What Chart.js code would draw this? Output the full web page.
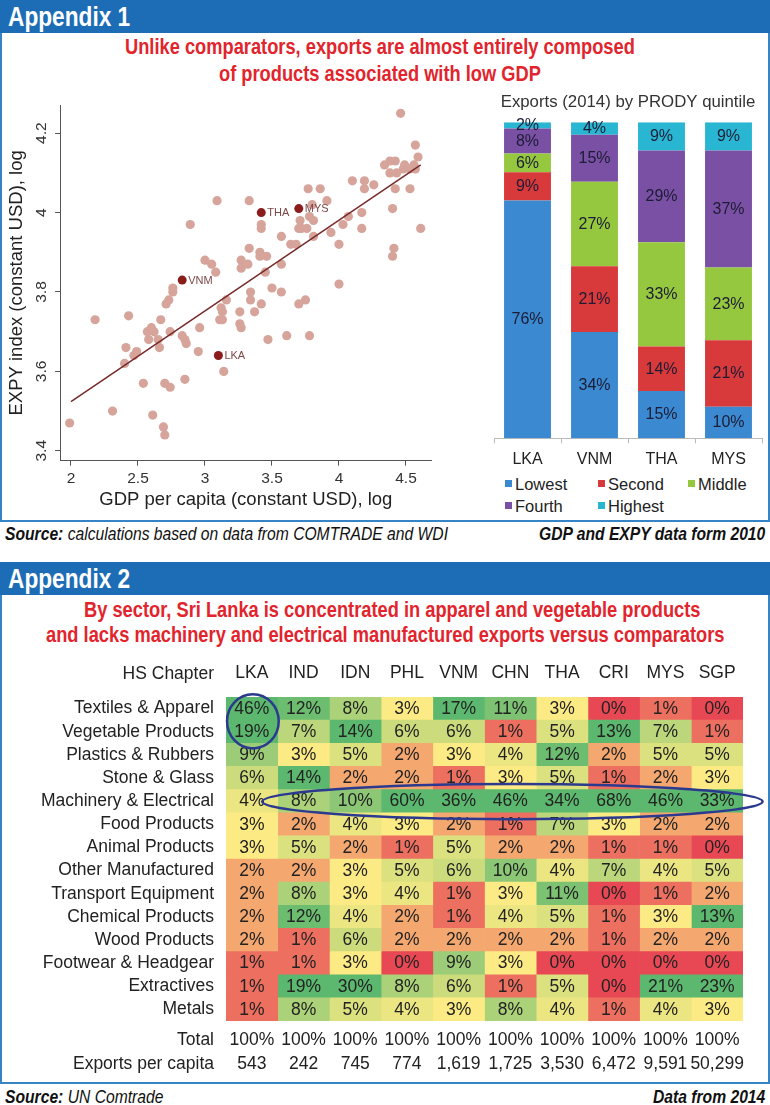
<!DOCTYPE html>
<html><head><meta charset="utf-8">
<script src="https://cdn.jsdelivr.net/npm/chart.js@4.4.1/dist/chart.umd.min.js"></script>
<style>
html,body{margin:0;padding:0;background:#fff;}
body{width:770px;height:1105px;position:relative;overflow:hidden;font-family:"Liberation Sans",Arial,sans-serif;}
.box{position:absolute;left:0;width:770px;box-sizing:border-box;border:2px solid #3584c6;border-top:none;}
.hdr{position:absolute;left:0;width:770px;height:33px;background:#1c6db5;}
.ct{position:absolute;white-space:nowrap;line-height:1;transform-origin:0 50%;}
.hdrtxt{color:#fff;font-weight:bold;font-size:27px;}
.ttl{color:#e2242c;font-weight:bold;font-size:21.5px;}
.src{font-size:18px;font-style:italic;color:#111;}
.lg{position:absolute;font-size:16.5px;color:#222;white-space:nowrap;line-height:1;}
.sq{position:absolute;width:7px;height:7px;}
canvas{position:absolute;}
</style></head>
<body>
<div class="box" style="top:0;height:522px;"></div>
<div class="hdr" style="top:0;"></div>
<div class="box" style="top:562px;height:522px;"></div>
<div class="hdr" style="top:562px;"></div>

<span class="ct hdrtxt" id="h1">Appendix 1</span>
<span class="ct ttl" id="t1a">Unlike comparators, exports are almost entirely composed</span>
<span class="ct ttl" id="t1b">of products associated with low GDP</span>
<span class="ct src" id="s1a"><b>Source:</b> calculations based on data from COMTRADE and WDI</span>
<span class="ct src" id="s1b"><b>GDP and EXPY data form 2010</b></span>

<span class="ct hdrtxt" id="h2">Appendix 2</span>
<span class="ct ttl" id="t2a">By sector, Sri Lanka is concentrated in apparel and vegetable products</span>
<span class="ct ttl" id="t2b">and lacks machinery and electrical manufactured exports versus comparators</span>
<span class="ct src" id="s2a"><b>Source:</b> UN Comtrade</span>
<span class="ct src" id="s2b"><b>Data from 2014</b></span>

<canvas id="sc" width="467" height="428" style="left:3px;top:88px;"></canvas>
<canvas id="bc" width="294" height="380" style="left:474px;top:88px;"></canvas>
<div id="legend"></div>
<canvas id="hm" width="766" height="425" style="left:0px;top:655px;"></canvas>

<script>
// ---------- Appendix 1: scatter data (log GDP per capita vs log EXPY) ----------
const gdp = [3.09,3.33,2.89,3.00,3.05,3.08,3.27,3.27,3.32,3.33,2.76,2.76,2.73,2.71,3.16,3.12,3.13,3.26,2.18,2.43,2.67,
  2.57,2.60,2.62,2.58,2.65,2.66,2.74,2.83,2.85,2.86,2.96,2.95,2.41,2.49,2.47,2.40,2.54,2.70,2.74,2.85,3.14,2.31,2.61,2.69,2.70,1.99,
  3.26,3.27,3.11,3.13,4.46,4.57,4.59,4.34,4.38,4.42,4.49,4.56,4.38,4.43,4.48,4.53,4.57,4.42,4.53,4.26,4.19,4.19,4.10,4.40,4.61,
  4.17,4.17,4.07,4.03,4.00,4.41,4.40,4.00,3.77,3.86,3.91,3.80,3.71,3.78,3.81,3.42,3.42,3.70,3.72,3.76,3.94,3.57,3.81,3.64,3.68,
  3.41,3.41,3.46,3.57,3.45,3.50,3.57,3.34,3.34,3.42,3.37,3.70,3.75,3.47,3.61,3.78];
const expy = [4.03,4.03,3.97,3.88,3.87,3.85,3.88,3.86,3.87,3.91,3.81,3.80,3.78,3.77,3.78,3.76,3.75,3.75,3.73,3.74,3.73,
  3.70,3.71,3.70,3.68,3.68,3.66,3.70,3.69,3.68,3.67,3.71,3.65,3.66,3.65,3.64,3.62,3.57,3.57,3.56,3.58,3.60,3.50,3.49,3.46,3.44,3.47,
  3.72,3.71,3.73,3.73,4.25,4.17,4.14,4.12,4.13,4.13,4.12,4.12,4.10,4.10,4.11,4.11,4.11,4.06,4.06,4.07,4.08,4.06,4.08,4.01,3.96,
  4.00,3.96,3.99,3.97,3.92,3.91,3.89,3.82,4.06,4.06,4.03,4.02,3.98,3.99,3.98,3.97,3.96,3.96,3.96,3.96,3.95,3.94,3.94,3.92,3.92,
  3.90,3.89,3.89,3.87,3.85,3.81,3.80,3.80,3.78,3.77,3.75,3.77,3.78,3.68,3.69,3.69];
const hlNames = ['VNM','THA','MYS','LKA'];
const hlGdp = [2.83,3.42,3.70,3.10];
const hlExpy = [3.83,4.00,4.01,3.64];
const fitGdp = [2.00,4.61];
const fitExpy = [3.524,4.120];
const xTicks = [2,2.5,3,3.5,4,4.5];
const yTicks = [3.4,3.6,3.8,4,4.2];

// ---------- Appendix 1: exports by PRODY quintile (%) ----------
const barCountries = ['LKA','VNM','THA','MYS'];
const quintiles = ['Lowest','Second','Middle','Fourth','Highest'];
const lowest  = [76,34,15,10];
const second  = [9,21,14,21];
const middle  = [6,27,33,23];
const fourth  = [8,15,29,37];
const highest = [2,4,9,9];

// ---------- Appendix 2: share of exports by HS chapter (%) ----------
const sectors = ['Textiles & Apparel','Vegetable Products','Plastics & Rubbers','Stone & Glass','Machinery & Electrical',
  'Food Products','Animal Products','Other Manufactured','Transport Equipment','Chemical Products','Wood Products',
  'Footwear & Headgear','Extractives','Metals'];
const countries = ['LKA','IND','IDN','PHL','VNM','CHN','THA','CRI','MYS','SGP'];
const LKA = [46,19,9,6,4,3,3,2,2,2,2,1,1,1];
const IND = [12,7,3,14,8,2,5,2,8,12,1,1,19,8];
const IDN = [8,14,5,2,10,4,2,3,3,4,6,3,30,5];
const PHL = [3,6,2,2,60,3,1,5,4,2,2,0,8,4];
const VNM = [17,6,3,1,36,2,5,6,1,1,2,9,6,3];
const CHN = [11,1,4,3,46,1,2,10,3,4,2,3,1,8];
const THA = [3,5,12,5,34,7,2,4,11,5,2,0,5,4];
const CRI = [0,13,2,1,68,3,1,7,0,1,1,0,0,1];
const MYS = [1,7,5,2,46,2,1,4,1,3,2,0,21,4];
const SGP = [0,1,5,3,33,2,0,5,2,13,2,0,23,3];
const totals = ['100%','100%','100%','100%','100%','100%','100%','100%','100%','100%'];
const exportsPerCapita = ['543','242','745','774','1,619','1,725','3,530','6,472','9,591','50,299'];

// ---------- text placement ----------
function place(id, o){
  const el=document.getElementById(id);
  const sx=o.sx||1;
  el.style.transform='scaleX('+sx+')';
  const w=el.offsetWidth*sx, h=el.offsetHeight;
  let left=o.left;
  if(o.cx!==undefined) left=o.cx-w/2;
  if(o.right!==undefined) left=o.right-w;
  el.style.left=left+'px';
  el.style.top=(o.cy-h/2)+'px';
}
place('h1',{left:8,cy:17,sx:0.84});
place('t1a',{cx:380,cy:48,sx:0.85});
place('t1b',{cx:380,cy:75,sx:0.85});
place('s1a',{left:5,cy:534,sx:0.87});
place('s1b',{right:765,cy:534,sx:0.87});
place('h2',{left:8,cy:579,sx:0.84});
place('t2a',{cx:392,cy:611,sx:0.85});
place('t2b',{cx:385,cy:636,sx:0.85});
place('s2a',{left:5,cy:1097,sx:0.87});
place('s2b',{right:765,cy:1097,sx:0.87});

const FAM='"Liberation Sans", Arial, sans-serif';
Chart.defaults.font.family=FAM;
Chart.defaults.color='#222';
Chart.defaults.animation=false;

// ---------- scatter ----------
const scLabels={
  id:'scLabels',
  afterDraw(chart){
    const ctx=chart.ctx, ys=chart.scales.y, ca=chart.chartArea;
    ctx.save();
    ctx.font='15.5px '+FAM; ctx.fillStyle='#333'; ctx.textAlign='center'; ctx.textBaseline='middle';
    ys.ticks.forEach(t=>{
      const py=ys.getPixelForValue(t.value);
      ctx.save(); ctx.translate(ca.left-18,py); ctx.rotate(-Math.PI/2); ctx.fillText(String(t.value),0,0); ctx.restore();
    });
    const meta=chart.getDatasetMeta(0);
    ctx.font='11px '+FAM; ctx.fillStyle='#7d4747'; ctx.textAlign='left';
    meta.data.forEach((el,i)=>{ ctx.fillText(hlNames[i], el.x+6, el.y+0.5); });
    ctx.restore();
  }
};
new Chart(document.getElementById('sc'),{
  type:'scatter',
  data:{datasets:[
    {label:'Highlighted',data:hlGdp.map((x,i)=>({x,y:hlExpy[i]})),pointRadius:4.5,backgroundColor:'#8b1c1c',borderWidth:0,order:0},
    {type:'line',label:'Fit',data:fitGdp.map((x,i)=>({x,y:fitExpy[i]})),borderColor:'#772a2a',borderWidth:1.5,pointRadius:0,fill:false,order:1},
    {label:'Countries',data:gdp.map((x,i)=>({x,y:expy[i]})),pointRadius:4.6,backgroundColor:'#d6a49b',borderWidth:0,order:2}
  ]},
  options:{
    responsive:false,devicePixelRatio:1,
    layout:{padding:{left:0,top:17,right:38.3,bottom:0}},
    plugins:{legend:{display:false},tooltip:{enabled:false}},
    scales:{
      x:{type:'linear',min:1.918,max:4.692,
        afterBuildTicks:s=>{s.ticks=xTicks.map(v=>({value:v}));},
        afterFit:s=>{s.height=55.3;},
        grid:{drawOnChartArea:false,drawTicks:true,tickLength:5,color:'#555'},
        border:{display:true,color:'#555',width:1},
        ticks:{font:{size:15.5},color:'#333',padding:4,maxRotation:0,callback:v=>String(v)},
        title:{display:true,text:'GDP per capita (constant USD), log',font:{size:18.5},color:'#222',padding:{top:0,bottom:5}}},
      y:{type:'linear',min:3.375,max:4.271,
        afterBuildTicks:s=>{s.ticks=yTicks.map(v=>({value:v}));},
        afterFit:s=>{s.width=57;},
        grid:{drawOnChartArea:false,drawTicks:true,tickLength:5,color:'#555'},
        border:{display:true,color:'#555',width:1},
        ticks:{display:false},
        title:{display:true,text:'EXPY index (constant USD), log',font:{size:18.5},color:'#222',padding:{top:3,bottom:0}}}
    }
  },
  plugins:[scLabels]
});

// ---------- stacked bars ----------
const qSeries=[lowest,second,middle,fourth,highest];
const qColors=['#3b89d1','#d8393b','#95c83e','#7a50a4','#29b6d3'];
const barTot=barCountries.map((c,j)=>qSeries.reduce((s,a)=>s+a[j],0));
const barLabels={
  id:'barLabels',
  afterDatasetsDraw(chart){
    const ctx=chart.ctx; ctx.save();
    ctx.font='16px '+FAM; ctx.fillStyle='#1c1c34'; ctx.textAlign='center'; ctx.textBaseline='middle';
    chart.data.datasets.forEach((ds,i)=>{
      chart.getDatasetMeta(i).data.forEach((el,j)=>{
        ctx.fillText(qSeries[i][j]+'%', el.x, (el.y+el.base)/2+0.5);
      });
    });
    ctx.restore();
  }
};
new Chart(document.getElementById('bc'),{
  type:'bar',
  data:{labels:barCountries,datasets:quintiles.map((q,i)=>({
    label:q,data:qSeries[i].map((v,j)=>v/barTot[j]*100),backgroundColor:qColors[i],borderWidth:0,
    barPercentage:0.7,categoryPercentage:1}))},
  options:{
    responsive:false,devicePixelRatio:1,
    layout:{padding:{left:20,right:6,top:0,bottom:0}},
    plugins:{legend:{display:false},tooltip:{enabled:false},
      title:{display:true,text:'Exports (2014) by PRODY quintile',font:{size:16.8,weight:'normal'},color:'#333',padding:{top:4,bottom:10}}},
    scales:{
      x:{stacked:true,afterFit:s=>{s.height=29.7;},
        grid:{display:true,drawOnChartArea:false,drawTicks:true,tickLength:5,color:'#bbb',offset:true},
        border:{display:true,color:'#bbb'},
        ticks:{font:{size:16},color:'#222',padding:7}},
      y:{stacked:true,display:false,min:0,max:100}
    }
  },
  plugins:[barLabels]
});
// legend (HTML, built from the series names and colours)
(function(){
  const lg=document.getElementById('legend');
  const cols=[505,598,688], rows=[484,506];
  quintiles.forEach((q,i)=>{
    const cx=cols[i%3], cy=rows[Math.floor(i/3)];
    const sq=document.createElement('div'); sq.className='sq';
    sq.style.left=cx+'px'; sq.style.top=(cy-4)+'px'; sq.style.background=qColors[i];
    const t=document.createElement('div'); t.className='lg'; t.textContent=q;
    lg.appendChild(sq); lg.appendChild(t);
    t.style.left=(cx+10)+'px'; t.style.top=(cy-t.offsetHeight/2)+'px';
  });
})();

// ---------- heatmap ----------
const shareSeries=[LKA,IND,IDN,PHL,VNM,CHN,THA,CRI,MYS,SGP];
const RED=[232,72,84], YEL=[252,235,132], GRN=[92,184,110];
function lerp(a,b,t){return a.map((v,k)=>Math.round(v+(b[k]-v)*t));}
function heatColor(v){
  const c = v<=3 ? lerp(RED,YEL,Math.pow(v/3,1.3)) : lerp(YEL,GRN,Math.min(1,(v-3)/10));
  return 'rgb('+c.join(',')+')';
}
const heatText={
  id:'heatText',
  afterDatasetsDraw(chart){
    const ctx=chart.ctx, xs=chart.scales.x, ys=chart.scales.y, ca=chart.chartArea;
    ctx.save();
    ctx.font='17.5px '+FAM; ctx.fillStyle='#222'; ctx.textAlign='center'; ctx.textBaseline='middle';
    chart.data.datasets.forEach((ds,i)=>{
      chart.getDatasetMeta(i).data.forEach((el,j)=>{
        const p=el.getCenterPoint();
        ctx.fillText(shareSeries[i][j]+'%', p.x, p.y+0.5);
      });
    });
    // highlight ellipses
    ctx.strokeStyle='#2b3a8e'; ctx.lineWidth=2.5;
    const cw=xs.getPixelForValue(1)-xs.getPixelForValue(0);
    const rh=ys.getPixelForValue(1)-ys.getPixelForValue(0);
    ctx.beginPath();
    ctx.ellipse(xs.getPixelForValue(0.02), ys.getPixelForValue(0.55), 0.5*cw, 1.17*rh, 0, 0, Math.PI*2);
    ctx.stroke();
    ctx.beginPath();
    ctx.ellipse(xs.getPixelForValue(5.04), ys.getPixelForValue(4.02), 4.84*cw, 0.76*rh, 0, 0, Math.PI*2);
    ctx.stroke();
    // header + totals rows
    ctx.textAlign='right';
    ctx.fillText('HS Chapter', ca.left-12, 19.5);
    ctx.fillText('Total', ca.left-12, 385.5);
    ctx.fillText('Exports per capita', ca.left-12, 409.5);
    ctx.textAlign='center';
    countries.forEach((c,i)=>{
      const x=xs.getPixelForValue(i);
      ctx.fillText(totals[i], x, 385.5);
      ctx.fillText(exportsPerCapita[i], x, 409.5);
    });
    ctx.restore();
  }
};
new Chart(document.getElementById('hm'),{
  type:'bar',
  data:{labels:sectors,datasets:countries.map((c,ci)=>({
    label:c,data:sectors.map(()=>[ci-0.5,ci+0.5]),
    backgroundColor:shareSeries[ci].map(heatColor),borderWidth:0,
    barPercentage:1,categoryPercentage:1,grouped:false}))},
  options:{
    indexAxis:'y',responsive:false,devicePixelRatio:1,
    layout:{padding:{left:0,right:23,top:0,bottom:59}},
    plugins:{legend:{display:false},tooltip:{enabled:false}},
    scales:{
      x:{type:'linear',position:'top',min:-0.5,max:9.5,
        afterBuildTicks:s=>{s.ticks=countries.map((c,i)=>({value:i}));},
        afterFit:s=>{s.height=42;},
        grid:{display:false,drawTicks:false},border:{display:false},
        ticks:{font:{size:17.5},color:'#222',padding:13,maxRotation:0,autoSkip:false,callback:(v,i)=>countries[i]}},
      y:{type:'category',afterFit:s=>{s.width=226;},
        grid:{display:false,drawTicks:false},border:{display:false},
        ticks:{font:{size:17.5},color:'#222',padding:12,autoSkip:false}}
    }
  },
  plugins:[heatText]
});
</script>
</body></html>
